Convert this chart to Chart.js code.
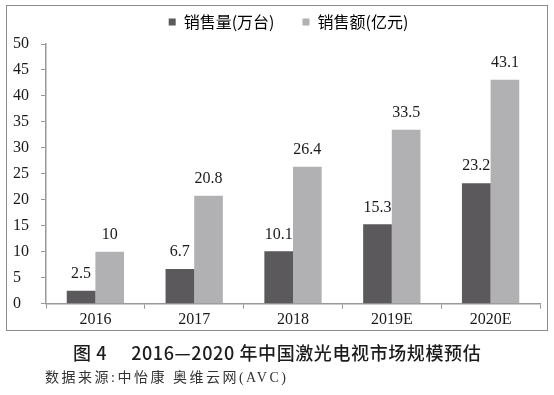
<!DOCTYPE html>
<html>
<head>
<meta charset="utf-8">
<script src="https://cdn.jsdelivr.net/npm/chart.js@4.4.0/dist/chart.umd.min.js"></script>
<style>
  body { margin: 0; background: #fff; width: 554px; height: 395px; position: relative; overflow: hidden; }
  #wrap { position: absolute; left: 0; top: 0; width: 554px; height: 340px; }
  #frame { position: absolute; left: 6px; top: 5px; width: 540px; height: 324px; border: 1.5px solid #8c8c8c; pointer-events: none; }
  #caption { position: absolute; left: 73px; top: 339px; font: 500 18px "Noto Sans CJK SC", sans-serif; letter-spacing: 0.6px; color: #1c1c1c; white-space: nowrap; }
  #source { position: absolute; left: 45px; top: 366px; font: 14px "Liberation Serif", "Noto Sans CJK SC", serif; letter-spacing: 2.5px; color: #333; white-space: nowrap; }
</style>
</head>
<body>
<div id="wrap"><canvas id="chart"></canvas></div>
<div id="frame"></div>
<div id="caption">图 4<span style="margin-left:24px">2016—2020 年中国激光电视市场规模预估</span></div>
<div id="source">数据来源:中怡康 奥维云网(AVC)</div>
<script>
let years = ['2016', '2017', '2018', '2019E', '2020E']
let salesVolume = [2.5, 6.7, 10.1, 15.3, 23.2]   // 销售量(万台)
let salesAmount = [10, 20.8, 26.4, 33.5, 43.1]   // 销售额(亿元)
let seriesNames = ['销售量(万台)', '销售额(亿元)']

let numFont = { family: '"Liberation Serif", serif', size: 16 }

// value labels above each bar
const barValues = {
    id: 'barValues',
    afterDatasetsDraw(chart) {
        const ctx = chart.ctx
        ctx.save()
        ctx.font = '16px "Liberation Serif", serif'
        ctx.fillStyle = '#1a1a1a'
        ctx.textAlign = 'center'
        ctx.textBaseline = 'middle'
        chart.data.datasets.forEach((ds, i) => {
            chart.getDatasetMeta(i).data.forEach((bar, j) => {
                ctx.fillText(String(ds.data[j]), bar.x, bar.y - 17)
            })
        })
        ctx.restore()
    }
}

// nudge the legend a bit right and up, like the original
const legendNudge = {
    id: 'legendNudge',
    afterLayout(chart) {
        const lg = chart.legend
        lg.left += 12
        lg.right += 12
        lg.top -= 4
        lg.bottom -= 4
    }
}

const ctx = document.getElementById('chart').getContext('2d')
const myChart = new Chart(ctx, {
    type: 'bar',
    data: {
        labels: years,
        datasets: [
            { label: seriesNames[0], data: salesVolume, backgroundColor: '#5b595c' },
            { label: seriesNames[1], data: salesAmount, backgroundColor: '#b1b0b2' }
        ]
    },
    options: {
        responsive: true,
        maintainAspectRatio: false,
        animation: false,
        datasets: { bar: { barPercentage: 1, categoryPercentage: 0.58 } },
        layout: { padding: { left: 13, right: 14, top: 6, bottom: 10 } },
        plugins: {
            legend: {
                labels: {
                    boxWidth: 7,
                    boxHeight: 7,
                    padding: 12,
                    color: '#333',
                    font: { family: '"Noto Sans CJK SC", sans-serif', size: 16 },
                    generateLabels(chart) {
                        return chart.data.datasets.map((ds, i) => ({
                            text: i === 0 ? ds.label + '\u3000' : ds.label,
                            fillStyle: ds.backgroundColor,
                            strokeStyle: ds.backgroundColor,
                            lineWidth: 0,
                            datasetIndex: i
                        }))
                    }
                }
            },
            tooltip: { enabled: false }
        },
        scales: {
            x: {
                grid: { drawOnChartArea: false, tickLength: 5, color: '#999' },
                border: { color: '#999', width: 1.5 },
                ticks: { color: '#1a1a1a', font: numFont, padding: 1 }
            },
            y: {
                min: 0,
                max: 50,
                ticks: { stepSize: 5, color: '#1a1a1a', font: numFont, padding: 6, crossAlign: 'far' },
                grid: { drawOnChartArea: false, tickLength: 5, color: '#999' },
                border: { color: '#999', width: 1.5 }
            }
        }
    },
    plugins: [barValues, legendNudge]
})
</script>
</body>
</html>
